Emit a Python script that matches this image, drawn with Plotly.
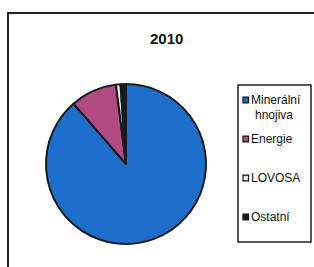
import plotly.graph_objects as go

categories = ["Minerální hnojiva", "Energie", "LOVOSA", "Ostatní"]
legend_labels = ["Minerální", "Energie", "LOVOSA", "Ostatní"]
legend_second_line = ["hnojiva", "", "", ""]
values = [88.6, 9.4, 0.9, 1.1]
colors = ["#1E6FCC", "#B04A80", "#F4F4EE", "#1A1A1A"]
title_text = "2010"

W, H = 314, 267

def px(x):
    return x / W

def py(y):
    return 1 - y / H

fig = go.Figure()
fig.add_trace(go.Pie(
    labels=categories,
    values=values,
    sort=False,
    direction="clockwise",
    rotation=0,
    marker=dict(colors=colors, line=dict(color="#1a1a1a", width=2)),
    textinfo="none",
    hoverinfo="label+percent",
    showlegend=False,
    domain=dict(x=[px(46), px(206)], y=[py(244), py(84)]),
))

shapes = [
    dict(type="line", xref="paper", yref="paper", x0=px(8), x1=px(8), y0=py(13), y1=py(270),
         line=dict(color="#222", width=2)),
    dict(type="line", xref="paper", yref="paper", x0=px(7), x1=px(320), y0=py(13), y1=py(13),
         line=dict(color="#222", width=2)),
    dict(type="rect", xref="paper", yref="paper", x0=px(238), x1=px(311), y0=py(242), y1=py(85),
         line=dict(color="#222", width=1.5), fillcolor="rgba(0,0,0,0)"),
]

annotations = [
    dict(text="<b>" + title_text + "</b>", x=px(166), y=py(38), xref="paper", yref="paper",
         showarrow=False, xanchor="center", yanchor="middle",
         font=dict(family="Arial, Liberation Sans", size=15, color="#111")),
]

item_y = [100, 139, 178, 217]
for lab, lab2, c, ty in zip(legend_labels, legend_second_line, colors, item_y):
    annotations.append(dict(text=lab, x=px(249), y=py(ty), xref="paper", yref="paper",
                            showarrow=False, xanchor="left", yanchor="middle", align="left",
                            font=dict(family="Arial, Liberation Sans", size=12, color="#111")))
    if lab2:
        annotations.append(dict(text=lab2, x=px(253), y=py(ty + 15), xref="paper", yref="paper",
                                showarrow=False, xanchor="left", yanchor="middle", align="left",
                                font=dict(family="Arial, Liberation Sans", size=12, color="#111")))
    shapes.append(dict(type="rect", xref="paper", yref="paper", x0=px(243), x1=px(248.5),
                       y0=py(ty + 2.8), y1=py(ty - 2.8), fillcolor=c,
                       line=dict(color="#111", width=1.2)))

fig.update_layout(
    width=W, height=H,
    margin=dict(l=0, r=0, t=0, b=0),
    paper_bgcolor="white",
    plot_bgcolor="white",
    shapes=shapes,
    annotations=annotations,
)

fig.write_html("out.html", config={"displayModeBar": False},
               post_script="document.body.style.margin='0';document.body.style.overflow='hidden';")
